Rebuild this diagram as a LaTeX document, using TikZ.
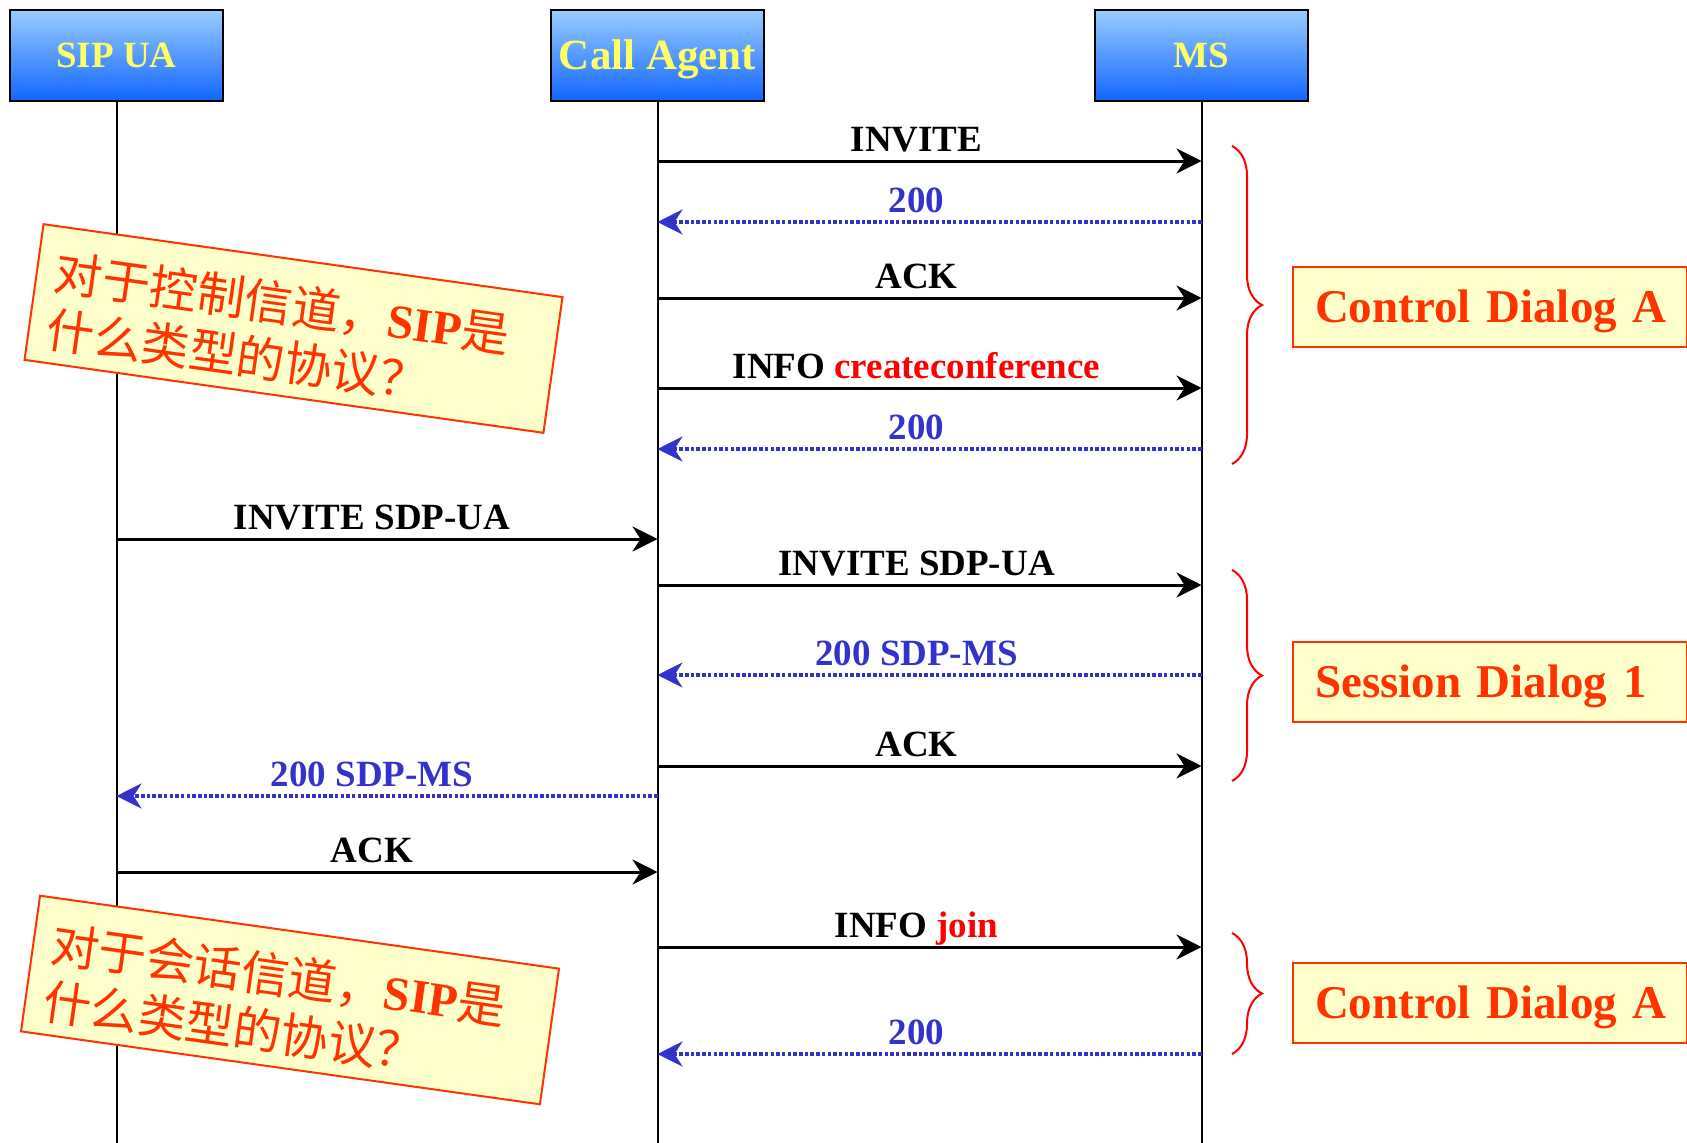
\documentclass[tikz,border=0pt]{standalone}
\usepackage{fontspec}
\setmainfont{Liberation Serif}
\newfontfamily\cjk{Noto Sans CJK SC}
\usetikzlibrary{arrows.meta,decorations.pathreplacing}
\definecolor{hdrtop}{RGB}{153,204,255}
\definecolor{hdrbot}{RGB}{17,102,255}
\definecolor{hdrtext}{RGB}{255,255,102}
\definecolor{msgblue}{RGB}{51,51,204}
\definecolor{notered}{RGB}{255,51,0}
\definecolor{notefill}{RGB}{255,255,204}
\begin{document}
\begin{tikzpicture}[x=1pt,y=1pt,
  hdr/.style={draw=black, line width=2pt, top color=hdrtop, bottom color=hdrbot,
    minimum width=213pt, minimum height=91pt, inner sep=0pt, text=hdrtext, text depth=0pt},
  life/.style={line width=2pt, black},
  tip/.style={-{Stealth[length=25pt,width=25pt,inset=8pt]}},
  call/.style={tip, line width=3pt, black},
  resp/.style={tip, line width=3.3pt, msgblue, dash pattern=on 3.5pt off 2.2pt},
  lbl/.style={anchor=base, inner sep=0pt, font=\fontsize{37}{40}\selectfont\bfseries},
  blbl/.style={lbl, text=msgblue},
  dlg/.style={draw=notered, line width=2pt, fill=notefill, text=notered, anchor=west,
    font=\fontsize{47}{50}\selectfont\bfseries, text width=394pt, inner xsep=0pt, inner ysep=0pt,
    minimum height=80pt, text height=31pt, text depth=0pt, align=left},
  notebox/.style={draw=notered, line width=2pt, fill=notefill, text=notered, rotate=-8,
    minimum height=137pt, text width=488pt, inner xsep=18pt, inner ysep=0pt, align=left,
    font=\fontsize{48}{56}\selectfont},
  bracestyle/.style={draw=red, line width=2pt, decorate, decoration={brace, amplitude=30pt}}
]
\useasboundingbox[fill=white] (0,0) rectangle (1687,-1143);
\coordinate (bottom) at (0,-1143);

% headers
\node[hdr, text height=24.5pt, font=\fontsize{37}{40}\selectfont\bfseries] (ua) at (116.5,-55.5) {SIP UA};
\node[hdr, text height=28.5pt, font=\fontsize{43}{46}\selectfont\bfseries] (ca) at (657.5,-55.5) {Call Agent};
\node[hdr, text height=24.5pt, font=\fontsize{37}{40}\selectfont\bfseries] (ms) at (1201.5,-55.5) {MS};

% lifelines
\draw[life] (ua.south) -- (ua.south |- bottom);
\draw[life] (ca.south) -- (ca.south |- bottom);
\draw[life] (ms.south) -- (ms.south |- bottom);

% messages CA <-> MS (control dialog)
\draw[call] (ca.south |- 0,-161) -- (ms.south |- 0,-161)
  node[lbl, pos=0.5, xshift=-13pt, yshift=10pt] {INVITE};
\draw[resp] (ms.south |- 0,-222) -- (ca.south |- 0,-222)
  node[blbl, pos=0.5, xshift=-13pt, yshift=10pt] {200};
\draw[call] (ca.south |- 0,-298) -- (ms.south |- 0,-298)
  node[lbl, pos=0.5, xshift=-13pt, yshift=10pt] {ACK};
\draw[call] (ca.south |- 0,-388) -- (ms.south |- 0,-388)
  node[lbl, pos=0.5, xshift=-13pt, yshift=10pt] {INFO \textcolor{red}{createconference}};
\draw[resp] (ms.south |- 0,-449) -- (ca.south |- 0,-449)
  node[blbl, pos=0.5, xshift=-13pt, yshift=10pt] {200};

% session dialog
\draw[call] (ua.south |- 0,-539) -- (ca.south |- 0,-539)
  node[lbl, pos=0.5, xshift=-15pt, yshift=10pt] {INVITE SDP-UA};
\draw[call] (ca.south |- 0,-585) -- (ms.south |- 0,-585)
  node[lbl, pos=0.5, xshift=-13pt, yshift=10pt] {INVITE SDP-UA};
\draw[resp] (ms.south |- 0,-675) -- (ca.south |- 0,-675)
  node[blbl, pos=0.5, xshift=-13pt, yshift=10pt] {200 SDP-MS};
\draw[call] (ca.south |- 0,-766) -- (ms.south |- 0,-766)
  node[lbl, pos=0.5, xshift=-13pt, yshift=10pt] {ACK};
\draw[resp] (ca.south |- 0,-796) -- (ua.south |- 0,-796)
  node[blbl, pos=0.5, xshift=-15pt, yshift=10pt] {200 SDP-MS};
\draw[call] (ua.south |- 0,-872) -- (ca.south |- 0,-872)
  node[lbl, pos=0.5, xshift=-15pt, yshift=10pt] {ACK};
\draw[call] (ca.south |- 0,-947) -- (ms.south |- 0,-947)
  node[lbl, pos=0.5, xshift=-13pt, yshift=10pt] {INFO \textcolor{red}{join}};
\draw[resp] (ms.south |- 0,-1054) -- (ca.south |- 0,-1054)
  node[blbl, pos=0.5, xshift=-13pt, yshift=10pt] {200};

% notes
\node[notebox] (n1) at (293.5,-328.5) {\raisebox{-12pt}[\height][\depth]{\begin{tabular}{@{}l@{}}{\cjk 对于控制信道，}\textbf{SIP}{\cjk 是}\\{\cjk 什么类型的协议？}\end{tabular}}};
\node[notebox] (n2) at (290,-1000) {\raisebox{-12pt}[\height][\depth]{\begin{tabular}{@{}l@{}}{\cjk 对于会话信道，}\textbf{SIP}{\cjk 是}\\{\cjk 什么类型的协议？}\end{tabular}}};

% braces and dialog boxes
\draw[bracestyle] (1232,-146) -- (1232,-464);
\draw[bracestyle] (1232,-570) -- (1232,-781);
\draw[bracestyle] (1232,-933) -- (1232,-1054);
\node[dlg] (d1) at (1292,-307) {\hspace*{22pt}Control Dialog A};
\node[dlg] (d2) at (1292,-682) {\hspace*{22pt}Session Dialog 1};
\node[dlg] (d3) at (1292,-1003) {\hspace*{22pt}Control Dialog A};
\end{tikzpicture}
\end{document}
